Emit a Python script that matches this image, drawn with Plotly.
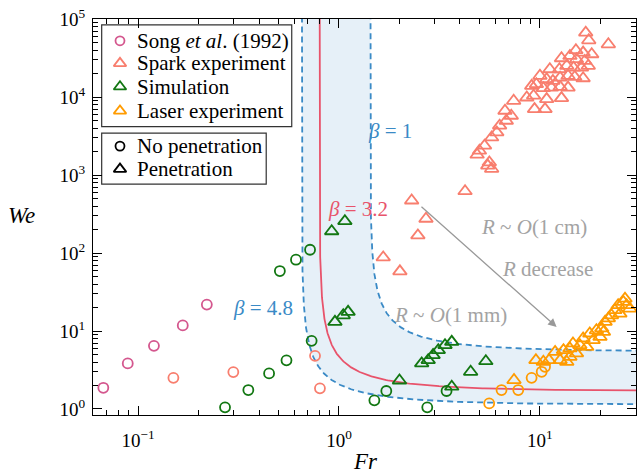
import numpy as np
import plotly.graph_objects as go

# ---------------- data ----------------
song_fr = [0.0672, 0.0889, 0.120, 0.167, 0.220]
song_we = [1.87, 3.84, 6.45, 11.8, 21.8]

spark_circ_fr = [0.150, 0.298, 0.760, 0.804]
spark_circ_we = [2.51, 2.97, 4.8, 1.84]

spark_tri_fr = [16.9, 17.5, 21.9, 15.1, 16.4, 18.1, 12.8, 14.1, 15.2, 16.7, 17.4,
                11.2, 12.5, 13.6, 14.7, 16.1, 10.0, 10.8, 11.6, 12.6, 13.8, 14.9,
                16.4, 9.1, 9.6, 10.4, 11.4, 12.6, 13.8, 8.6, 9.3, 10.8, 12.8, 9.4,
                10.6, 7.4, 6.7, 7.2, 6.8, 6.3, 6.1, 5.75, 5.3, 5.0, 4.87, 5.6, 5.5,
                5.75, 4.24, 2.30, 2.71, 2.47, 1.66, 2.01]
spark_tri_we = [66800, 53300, 47400, 39800, 37100, 35300, 31400, 33600, 30500, 29000,
                25100, 22700, 22700, 25100, 23800, 23800, 18700, 16900, 16100, 17700,
                18700, 18100, 17400, 13900, 14600, 13000, 13200, 13500, 13200, 9860,
                10400, 9400, 9680, 7000, 7000, 8940, 6660, 5750, 4960, 4290, 3520,
                3030, 2380, 2050, 1820, 1450, 1320, 1200, 620, 471, 275, 168, 87.9, 58.2]

sim_circ_fr = [0.271, 0.354, 0.449, 0.548, 0.731, 0.508, 0.611, 0.718, 1.50, 1.72, 2.75, 3.43]
sim_circ_we = [1.05, 1.75, 2.86, 4.21, 7.48, 58.7, 82.0, 110, 1.29, 1.70, 1.05, 1.70]

sim_tri_fr = [0.920, 1.07, 0.955, 1.05, 1.11, 2.0, 2.58, 2.78, 2.94, 3.12, 3.37, 3.64,
              3.64, 4.52, 5.38]
sim_tri_we = [190, 256, 13.1, 15.9, 17.6, 2.32, 3.84, 4.23, 4.91, 5.68, 6.58, 7.26,
              1.93, 3.0, 4.1]

laser_circ_fr = [5.59, 6.44, 7.80, 9.09, 10.2, 10.6]
laser_circ_we = [1.18, 1.75, 1.75, 2.51, 3.0, 3.47]

laser_tri_fr = [7.43, 9.55, 10.4, 11.1, 11.9, 12.6, 13.6, 14.1, 14.1, 14.6, 15.2, 16.4,
                17.1, 17.7, 18.4, 19.1, 20.3, 19.9, 21.1, 21.9, 22.7, 23.6, 24.5, 26.0,
                27.0, 28.0, 26.5, 15.8, 13.1, 20.7, 25.0]
laser_tri_we = [2.35, 4.23, 4.03, 4.23, 5.40, 4.23, 4.03, 4.67, 5.97, 6.92, 5.16, 8.02,
                6.26, 9.29, 7.63, 10.2, 10.8, 8.41, 13.1, 14.5, 15.9, 18.5, 21.4, 23.6,
                21.4, 19.4, 26.0, 6.58, 5.68, 9.73, 16.7]

# regime boundaries We(Fr; beta): (We/Wc - 1)(Fr/Fc - 1) = k
beta_values = [1.0, 3.2, 4.8]
we_c1 = 5.45          # We asymptote for beta = 1 (scales as 1/beta)
fr_c1 = 1.43          # Fr asymptote for beta = 1 (scales as 1/sqrt(beta))
k_shape = 0.44

x_tickvals = [0.1, 1, 10]
x_ticktext = ["10<sup>\u22121</sup>", "10<sup>0</sup>", "10<sup>1</sup>"]
y_tickvals = [1, 10, 100, 1000, 10000, 100000]
y_ticktext = ["10<sup>0</sup>", "10<sup>1</sup>", "10<sup>2</sup>",
              "10<sup>3</sup>", "10<sup>4</sup>", "10<sup>5</sup>"]

legend1_labels = ["Song <i>et al</i>. (1992)", "Spark experiment", "Simulation",
                  "Laser experiment"]
legend2_labels = ["No penetration", "Penetration"]

# ---------------- styles ----------------
FONT = "Liberation Serif, Times New Roman, serif"
C_SONG = "#d4578e"
C_SPARK = "#f87e6e"
C_SIM = "#127712"
C_LASER = "#ff9b00"
C_BLUE = "#3a8ac6"
C_RED = "#e8536b"
C_FILL = "#e6f0f8"
C_GRAY = "#a3a3a3"


def curve(beta):
    wc = we_c1 / beta
    fc = fr_c1 / np.sqrt(beta)
    s = np.geomspace(1e-7, 100, 600)
    fr = fc * (1 + s)
    we = wc * (1 + k_shape / s)
    return fr, we


fr1, we1 = curve(beta_values[0])
fr2, we2 = curve(beta_values[1])
fr3, we3 = curve(beta_values[2])

fig = go.Figure()

# shaded band between beta=4.8 and beta=1
fig.add_trace(go.Scatter(
    x=np.concatenate([fr3, fr1[::-1]]), y=np.concatenate([we3, we1[::-1]]),
    fill="toself", fillcolor=C_FILL, line=dict(width=0), mode="lines",
    showlegend=False, hoverinfo="skip"))

for fr, we, col, dash in [(fr1, we1, C_BLUE, "6px,4px"),
                          (fr3, we3, C_BLUE, "6px,4px"),
                          (fr2, we2, C_RED, "solid")]:
    fig.add_trace(go.Scatter(x=fr, y=we, mode="lines",
                             line=dict(color=col, width=1.8, dash=dash),
                             showlegend=False, hoverinfo="skip"))

MS_C = 10
MS_T = 12
LW = 1.8


def pts(x, y, sym, col):
    size = MS_C if "circle" in sym else MS_T
    return go.Scatter(x=x, y=y, mode="markers", showlegend=False,
                      marker=dict(symbol=sym, size=size, color=col,
                                  line=dict(color=col, width=LW)))


fig.add_trace(pts(song_fr, song_we, "circle-open", C_SONG))
fig.add_trace(pts(spark_circ_fr, spark_circ_we, "circle-open", C_SPARK))
fig.add_trace(pts(sim_circ_fr, sim_circ_we, "circle-open", C_SIM))
fig.add_trace(pts(laser_circ_fr, laser_circ_we, "circle-open", C_LASER))
fig.add_trace(pts(spark_tri_fr, spark_tri_we, "triangle-up-open", C_SPARK))
fig.add_trace(pts(sim_tri_fr, sim_tri_we, "triangle-up-open", C_SIM))
fig.add_trace(pts(laser_tri_fr, laser_tri_we, "triangle-up-open", C_LASER))

# ---------------- legend boxes (drawn on a [0,1] overlay axis) ----------------
leg_x_mark = 0.0497
leg_x_text = 0.0773
leg1_rows = [0.945, 0.888, 0.829, 0.768]
leg2_rows = [0.679, 0.621]
leg1_syms = ["circle-open", "triangle-up-open", "triangle-up-open", "triangle-up-open"]
leg1_cols = [C_SONG, C_SPARK, C_SIM, C_LASER]
leg2_syms = ["circle-open", "triangle-up-open"]

for yy, sym, col in zip(leg1_rows + leg2_rows, leg1_syms + leg2_syms,
                        leg1_cols + ["black", "black"]):
    fig.add_trace(go.Scatter(
        x=[leg_x_mark], y=[yy], mode="markers", showlegend=False,
        xaxis="x2", yaxis="y2", hoverinfo="skip",
        marker=dict(symbol=sym, size=9 if "circle" in sym else 11, color=col,
                    line=dict(color=col, width=1.8))))

minor_x = [m * 10.0 ** e for e in range(-2, 2) for m in range(2, 10)]
minor_y = [m * 10.0 ** e for e in range(0, 5) for m in range(2, 10)]

axis_common = dict(type="log", showgrid=False, zeroline=False, showline=True,
                   linecolor="black", linewidth=1.2, mirror="allticks",
                   ticks="inside", ticklen=9, tickwidth=1.2, tickcolor="black",
                   tickfont=dict(family=FONT, size=19, color="black"),
                   tickmode="array")

fig.update_layout(
    width=639, height=475,
    margin=dict(l=93, r=3, t=19, b=60),
    paper_bgcolor="white", plot_bgcolor="white",
    font=dict(family=FONT, color="black"),
    showlegend=False,
    xaxis=dict(axis_common, range=[-1.224, 1.478], tickvals=x_tickvals,
               ticktext=x_ticktext, ticklabelstandoff=8,
               minor=dict(tickmode="array", tickvals=minor_x, ticks="inside",
                          ticklen=5, tickwidth=1, tickcolor="black")),
    yaxis=dict(axis_common, range=[-0.077, 5.0], tickvals=y_tickvals,
               ticktext=y_ticktext, ticklabelstandoff=3,
               minor=dict(tickmode="array", tickvals=minor_y, ticks="inside",
                          ticklen=5, tickwidth=1, tickcolor="black")),
    xaxis2=dict(overlaying="x", range=[0, 1], visible=False, fixedrange=True),
    yaxis2=dict(overlaying="y", range=[0, 1], visible=False, fixedrange=True),
)

shapes = [
    dict(type="rect", xref="paper", yref="paper", x0=0.016, x1=0.366,
         y0=0.728, y1=0.985, line=dict(color="#333333", width=1.2),
         fillcolor="rgba(255,255,255,0)", layer="below"),
    dict(type="rect", xref="paper", yref="paper", x0=0.016, x1=0.319,
         y0=0.583, y1=0.712, line=dict(color="#333333", width=1.2),
         fillcolor="rgba(255,255,255,0)", layer="below"),
]

ann = []
for yy, lab in zip(leg1_rows + leg2_rows, legend1_labels + legend2_labels):
    ann.append(dict(x=leg_x_text, y=yy, xref="paper", yref="paper", text=lab,
                    showarrow=False, xanchor="left", yanchor="middle",
                    font=dict(family=FONT, size=21, color="black")))


def txt(lx, ly, s, col, size=21):
    ann.append(dict(x=lx, y=ly, xref="x", yref="y", text=s, showarrow=False,
                    xanchor="center", yanchor="middle",
                    font=dict(family=FONT, size=size, color=col)))


txt(0.254, 3.568, "<i>\u03b2</i> = 1", C_BLUE)
txt(0.095, 2.570, "<i>\u03b2</i> = 3.2", C_RED)
txt(-0.378, 1.292, "<i>\u03b2</i> = 4.8", C_BLUE)
txt(0.970, 2.327, "<i>R</i> ~ <i>O</i>(1 cm)", C_GRAY)
txt(1.040, 1.790, "<i>R</i> decrease", C_GRAY)
txt(0.557, 1.202, "<i>R</i> ~ <i>O</i>(1 mm)", C_GRAY)

ann.append(dict(x=1.083, y=1.052, ax=0.403, ay=2.609, xref="x", yref="y",
                axref="x", ayref="y", showarrow=True, arrowhead=2, arrowsize=1.3,
                arrowwidth=1.3, arrowcolor="#999999", text=""))

ann.append(dict(x=-0.131, y=0.505, xref="paper", yref="paper", showarrow=False,
                xanchor="center", yanchor="middle", text="<i>We</i>",
                font=dict(family=FONT, size=23, color="black")))
ann.append(dict(x=0.501, y=-0.118, xref="paper", yref="paper", showarrow=False,
                xanchor="center", yanchor="middle", text="<i>Fr</i>",
                font=dict(family=FONT, size=23, color="black")))

fig.update_layout(annotations=ann, shapes=shapes)
fig.write_html("out.html")
